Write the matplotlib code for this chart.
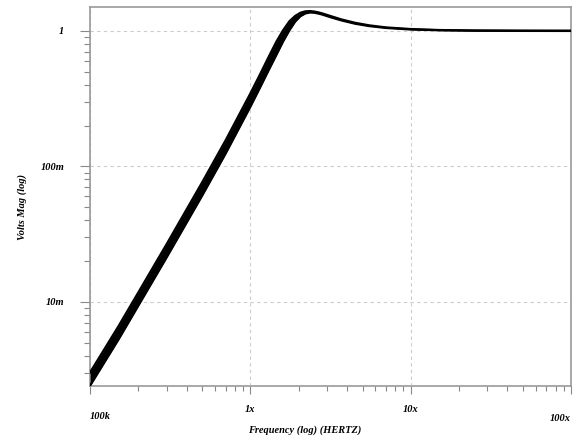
import matplotlib.pyplot as plt
from matplotlib.ticker import LogLocator, NullFormatter

# frequency points (Hz) and magnitude envelope
freq = [1e5, 1.5e5, 2e5, 3e5, 5e5, 7e5, 1e6, 1.15e6, 1.3e6, 1.45e6, 1.6e6, 1.75e6,
        1.9e6, 2.05e6, 2.2e6, 2.35e6, 2.5e6, 2.65e6, 2.8e6, 3.2e6, 3.7e6, 4.5e6,
        5.5e6, 7e6, 1e7, 1.5e7, 2.5e7, 5e7, 1e8]
mag_upper = [0.00302, 0.00659, 0.01176, 0.02666, 0.0763, 0.1557, 0.346, 0.480,
             0.644, 0.831, 1.012, 1.177, 1.288, 1.360, 1.393, 1.399, 1.388, 1.369,
             1.345, 1.280, 1.213, 1.146, 1.098, 1.060, 1.031, 1.014, 1.006, 1.003,
             1.002]
mag_lower = [0.00241, 0.00525, 0.00938, 0.02125, 0.0608, 0.1241, 0.2759, 0.383,
             0.513, 0.6625, 0.836, 1.009, 1.169, 1.282, 1.344, 1.366, 1.360, 1.342,
             1.319, 1.254, 1.193, 1.128, 1.084, 1.050, 1.023, 1.010, 1.002, 0.999,
             0.998]

x_ticks = [1e5, 1e6, 1e7, 1e8]
x_labels = ['100k', '1x', '10x', '100x']
y_ticks = [1e-2, 1e-1, 1.0]
y_labels = ['10m', '100m', '1']

font = {'family': 'Liberation Serif', 'weight': 'bold', 'style': 'italic', 'size': 7.5}

fig = plt.figure(figsize=(5.74, 4.36), dpi=100)
ax = fig.add_axes([0.157, 0.115, 0.838, 0.869])
ax.set_xscale('log')
ax.set_yscale('log')

ax.fill_between(freq, mag_lower, mag_upper, color='black', lw=0, zorder=3)
ax.plot(freq, mag_upper, color='black', lw=1.6, solid_joinstyle='round', zorder=3)
ax.plot(freq, mag_lower, color='black', lw=1.6, solid_joinstyle='round', zorder=3)

ax.xaxis.set_minor_locator(LogLocator(base=10, subs=range(2, 10), numticks=20))
ax.yaxis.set_minor_locator(LogLocator(base=10, subs=range(2, 10), numticks=20))
ax.set_xticks(x_ticks)
ax.xaxis.set_major_formatter(NullFormatter())
ax.xaxis.set_minor_formatter(NullFormatter())
ax.yaxis.set_minor_formatter(NullFormatter())
ax.set_yticks(y_ticks)
ax.set_yticklabels(y_labels, fontdict=font)

ax.tick_params(axis='y', which='major', direction='out', length=7, width=0.8,
               color='#888888', pad=11.5)
ax.tick_params(axis='y', which='minor', direction='out', length=4.3, width=0.8,
               color='#888888')
ax.tick_params(axis='x', which='major', direction='out', length=5.8, width=0.8,
               color='#888888')
ax.tick_params(axis='x', which='minor', direction='out', length=3.6, width=0.8,
               color='#888888')
ax.set_xlim(1e5, 1e8)
ax.set_ylim(2.4e-3, 1.5)

for s in ax.spines.values():
    s.set_color('#999999')
    s.set_linewidth(1.2)

ax.grid(True, which='major', color='#cccccc', linestyle=(0, (3, 3)), linewidth=0.8,
        zorder=1)

# x tick labels are placed by hand like the original (staggered)
tr = ax.get_xaxis_transform()
ha = ['left', 'center', 'center', 'right']
yoff = [-0.082, -0.063, -0.063, -0.085]
for xv, lab, h, yo in zip(x_ticks, x_labels, ha, yoff):
    ax.text(xv, yo, lab, ha=h, va='center', transform=tr, fontdict=font)

ax.text(0.447, -0.116, 'Frequency (log) (HERTZ)', ha='center', va='center',
        transform=ax.transAxes, fontdict=font)
ax.text(-0.141, 0.472, 'Volts Mag (log)', ha='center', va='center', rotation=90,
        transform=ax.transAxes, fontdict=font)

fig.savefig('out.png', dpi=100)
